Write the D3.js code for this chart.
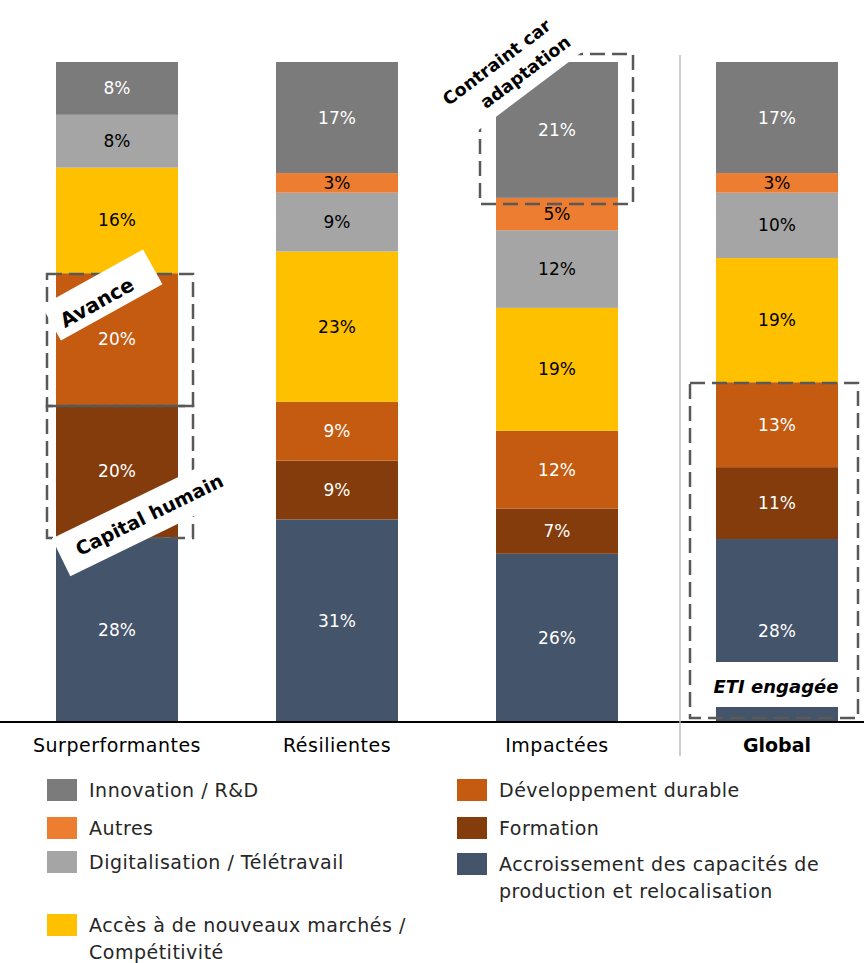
<!DOCTYPE html>
<html><head><meta charset="utf-8">
<script src="https://cdn.jsdelivr.net/npm/d3@7"></script>
<style>
html,body{margin:0;padding:0;background:#fff;}
svg{display:block;font-family:"DejaVu Sans",sans-serif;}
</style></head>
<body>
<svg id="chart" width="864" height="963"></svg>
<script>
const categories = ["Surperformantes","Résilientes","Impactées","Global"];
const seriesNames = ["Accroissement des capacités de production et relocalisation","Formation","Développement durable","Accès à de nouveaux marchés / Compétitivité","Digitalisation / Télétravail","Autres","Innovation / R&D"];
const accroissement = [28,31,26,28];
const formation     = [20,9,7,11];
const devDurable    = [20,9,12,13];
const acces         = [16,23,19,19];
const digitalisation= [8,9,12,10];
const autres        = [0,3,5,3];
const innovation    = [8,17,21,17];
const seriesValues = [accroissement,formation,devDurable,acces,digitalisation,autres,innovation];
const colors = ["#44546a","#843c0c","#c55a11","#ffc000","#a5a5a5","#ed7d31","#7b7b7b"];
const labelColors = ["#fff","#fff","#fff","#000","#000","#000","#fff"];

const svg = d3.select("#chart");
const x = d3.scaleBand().domain(categories).range([7,887]).paddingInner(0.4455).paddingOuter(0.4455/2);
const y = d3.scaleLinear().domain([0,1]).range([722,62]);

const rows = categories.map((c,i)=>{const o={cat:c}; seriesNames.forEach((s,j)=>o[s]=seriesValues[j][i]); return o;});
const stack = d3.stack().keys(seriesNames).offset(d3.stackOffsetExpand)(rows);

const g = svg.append("g");
stack.forEach((layer,j)=>{
  g.selectAll(null).data(layer).join("rect")
    .attr("x",d=>x(d.data.cat)).attr("width",x.bandwidth())
    .attr("y",d=>y(d[1])).attr("height",d=>y(d[0])-y(d[1]))
    .attr("fill",colors[j]);
});
stack.forEach((layer,j)=>{
  g.selectAll(null).data(layer.filter(d=>d.data[layer.key]>0)).join("text")
    .attr("x",d=>x(d.data.cat)+x.bandwidth()/2)
    .attr("y",d=>(y(d[0])+y(d[1]))/2)
    .attr("text-anchor","middle").attr("dominant-baseline","central")
    .attr("font-size",17).attr("fill",labelColors[j])
    .text(d=>d.data[layer.key]+"%");
});

// axis baseline
svg.append("line").attr("x1",0).attr("x2",864).attr("y1",722).attr("y2",722).attr("stroke","#000").attr("stroke-width",2);
// separator
svg.append("line").attr("x1",680).attr("x2",680).attr("y1",55).attr("y2",756).attr("stroke","#bfbfbf").attr("stroke-width",1.5);

// category axis labels
const xAxis = d3.axisBottom(x).tickSize(0).tickPadding(0);
const ax = svg.append("g").attr("transform","translate(0,745)").call(xAxis);
ax.select(".domain").remove();
ax.selectAll("text").attr("font-size",19).attr("fill","#000").attr("font-family","'DejaVu Sans',sans-serif")
  .attr("letter-spacing",d=>d==="Global"?0:0.5)
  .attr("dy","0.35em").attr("y",0)
  .attr("font-weight",d=>d==="Global"?"bold":"normal");

// ETI white background
svg.append("rect").attr("x",700).attr("y",662).attr("width",150).attr("height",45).attr("fill","#fff");
svg.append("text").attr("x",776).attr("y",686).attr("text-anchor","middle").attr("dominant-baseline","central")
  .attr("font-size",18).attr("font-weight","bold").attr("font-style","italic").text("ETI engagée");

// dashed boxes
const boxes = [[47,274,146,132],[47,406,146,132],[480,54,153,150],[690,383,168,335]];
boxes.forEach(b=>svg.append("rect").attr("x",b[0]).attr("y",b[1]).attr("width",b[2]).attr("height",b[3])
  .attr("fill","none").attr("stroke","#595959").attr("stroke-width",2.5).attr("stroke-dasharray","15,7"));

// rotated labels
function band(cx,cy,ang,w,h,lines,fs){
  const gg = svg.append("g").attr("transform",`translate(${cx},${cy}) rotate(${ang})`);
  gg.append("rect").attr("x",w[0]).attr("y",h[0]).attr("width",w[1]-w[0]).attr("height",h[1]-h[0]).attr("fill","#fff");
  lines.forEach((t,i)=>gg.append("text").attr("x",t[1]).attr("y",t[2]).attr("text-anchor","middle").attr("dominant-baseline","central")
    .attr("font-size",fs).attr("font-weight","bold").attr("fill","#000").text(t[0]));
}
band(102,295,-29,[-58,58],[-20,20],[["Avance",-8,4]],20);
band(142,518,-26,[-90,90],[-21,21],[["Capital humain",8,0]],19);
band(511,68,-37,[-95,95],[-45,30],[["Contraint car",-8,-13],["adaptation",9,12]],17.5);

// legend
const legendPos = [[457,853],[457,817],[457,779],[47,914],[47,851],[47,817],[47,779]];
const legendLines = [["Accroissement des capacités de","production et relocalisation"],["Formation"],["Développement durable"],["Accès à de nouveaux marchés /","Compétitivité"],["Digitalisation / Télétravail"],["Autres"],["Innovation / R&D"]];
seriesNames.forEach((s,j)=>{
  const [lx,ly]=legendPos[j];
  svg.append("rect").attr("x",lx).attr("y",ly).attr("width",30).attr("height",22).attr("fill",colors[j]);
  legendLines[j].forEach((t,k)=>svg.append("text").attr("x",lx+42).attr("y",ly+11+k*27)
    .attr("dominant-baseline","central").attr("font-size",19).attr("letter-spacing",0.5).attr("fill","#262626").text(t));
});
</script>
</body></html>
